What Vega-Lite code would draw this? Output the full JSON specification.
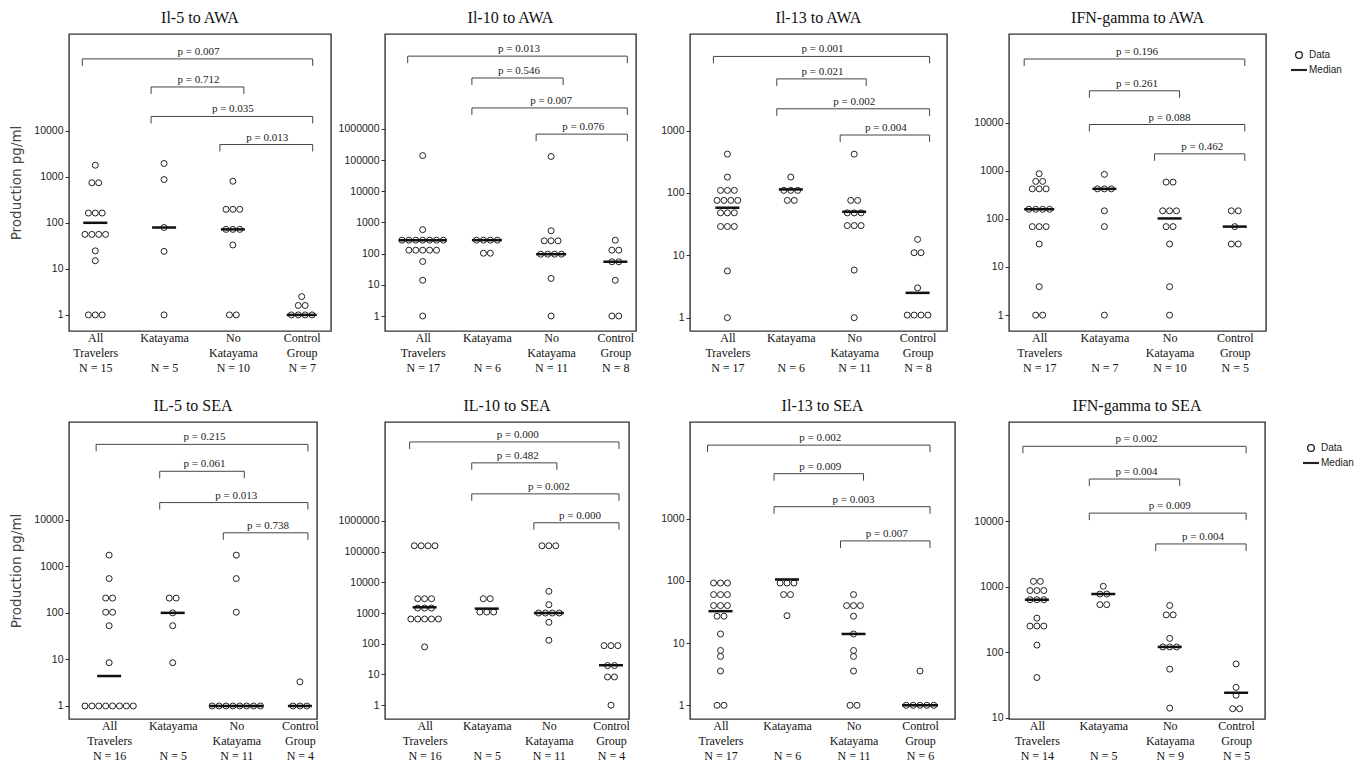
{
"$schema": "https://vega.github.io/schema/vega-lite/v6.json",
"background": "white",
"padding": {"left": 8, "top": 9, "right": 5, "bottom": 5},
"datasets": {
"pts": [
{"p":"A5","g":1,"v":1780},{"p":"A5","g":1,"v":740},{"p":"A5","g":1,"v":740},{"p":"A5","g":1,"v":163},{"p":"A5","g":1,"v":163},{"p":"A5","g":1,"v":163},{"p":"A5","g":1,"v":56},{"p":"A5","g":1,"v":56},{"p":"A5","g":1,"v":56},{"p":"A5","g":1,"v":56},{"p":"A5","g":1,"v":24.6},{"p":"A5","g":1,"v":15},{"p":"A5","g":1,"v":1},{"p":"A5","g":1,"v":1},{"p":"A5","g":1,"v":1},
{"p":"A5","g":2,"v":1940},{"p":"A5","g":2,"v":870},{"p":"A5","g":2,"v":79},{"p":"A5","g":2,"v":24},{"p":"A5","g":2,"v":1},
{"p":"A5","g":3,"v":800},{"p":"A5","g":3,"v":196},{"p":"A5","g":3,"v":196},{"p":"A5","g":3,"v":196},{"p":"A5","g":3,"v":72},{"p":"A5","g":3,"v":72},{"p":"A5","g":3,"v":72},{"p":"A5","g":3,"v":33},{"p":"A5","g":3,"v":1},{"p":"A5","g":3,"v":1},
{"p":"A5","g":4,"v":2.5},{"p":"A5","g":4,"v":1.6},{"p":"A5","g":4,"v":1.6},{"p":"A5","g":4,"v":1},{"p":"A5","g":4,"v":1},{"p":"A5","g":4,"v":1},{"p":"A5","g":4,"v":1},
{"p":"A10","g":1,"v":139000},{"p":"A10","g":1,"v":585},{"p":"A10","g":1,"v":270},{"p":"A10","g":1,"v":270},{"p":"A10","g":1,"v":270},{"p":"A10","g":1,"v":270},{"p":"A10","g":1,"v":270},{"p":"A10","g":1,"v":270},{"p":"A10","g":1,"v":270},{"p":"A10","g":1,"v":129},{"p":"A10","g":1,"v":129},{"p":"A10","g":1,"v":129},{"p":"A10","g":1,"v":129},{"p":"A10","g":1,"v":129},{"p":"A10","g":1,"v":56},{"p":"A10","g":1,"v":14},{"p":"A10","g":1,"v":1},
{"p":"A10","g":2,"v":270},{"p":"A10","g":2,"v":270},{"p":"A10","g":2,"v":270},{"p":"A10","g":2,"v":270},{"p":"A10","g":2,"v":103},{"p":"A10","g":2,"v":103},
{"p":"A10","g":3,"v":130000},{"p":"A10","g":3,"v":540},{"p":"A10","g":3,"v":257},{"p":"A10","g":3,"v":257},{"p":"A10","g":3,"v":257},{"p":"A10","g":3,"v":96},{"p":"A10","g":3,"v":96},{"p":"A10","g":3,"v":96},{"p":"A10","g":3,"v":96},{"p":"A10","g":3,"v":16},{"p":"A10","g":3,"v":1},
{"p":"A10","g":4,"v":270},{"p":"A10","g":4,"v":129},{"p":"A10","g":4,"v":129},{"p":"A10","g":4,"v":55},{"p":"A10","g":4,"v":55},{"p":"A10","g":4,"v":14},{"p":"A10","g":4,"v":1},{"p":"A10","g":4,"v":1},
{"p":"A13","g":1,"v":420},{"p":"A13","g":1,"v":180},{"p":"A13","g":1,"v":110},{"p":"A13","g":1,"v":110},{"p":"A13","g":1,"v":110},{"p":"A13","g":1,"v":76},{"p":"A13","g":1,"v":76},{"p":"A13","g":1,"v":76},{"p":"A13","g":1,"v":76},{"p":"A13","g":1,"v":48},{"p":"A13","g":1,"v":48},{"p":"A13","g":1,"v":48},{"p":"A13","g":1,"v":29},{"p":"A13","g":1,"v":29},{"p":"A13","g":1,"v":29},{"p":"A13","g":1,"v":5.6},{"p":"A13","g":1,"v":1},
{"p":"A13","g":2,"v":180},{"p":"A13","g":2,"v":110},{"p":"A13","g":2,"v":110},{"p":"A13","g":2,"v":110},{"p":"A13","g":2,"v":76},{"p":"A13","g":2,"v":76},
{"p":"A13","g":3,"v":420},{"p":"A13","g":3,"v":76},{"p":"A13","g":3,"v":76},{"p":"A13","g":3,"v":48},{"p":"A13","g":3,"v":48},{"p":"A13","g":3,"v":48},{"p":"A13","g":3,"v":30},{"p":"A13","g":3,"v":30},{"p":"A13","g":3,"v":30},{"p":"A13","g":3,"v":5.8},{"p":"A13","g":3,"v":1},
{"p":"A13","g":4,"v":18},{"p":"A13","g":4,"v":11},{"p":"A13","g":4,"v":11},{"p":"A13","g":4,"v":3},{"p":"A13","g":4,"v":1.1},{"p":"A13","g":4,"v":1.1},{"p":"A13","g":4,"v":1.1},{"p":"A13","g":4,"v":1.1},
{"p":"AG","g":1,"v":865},{"p":"AG","g":1,"v":600},{"p":"AG","g":1,"v":600},{"p":"AG","g":1,"v":420},{"p":"AG","g":1,"v":420},{"p":"AG","g":1,"v":420},{"p":"AG","g":1,"v":158},{"p":"AG","g":1,"v":158},{"p":"AG","g":1,"v":158},{"p":"AG","g":1,"v":158},{"p":"AG","g":1,"v":69},{"p":"AG","g":1,"v":69},{"p":"AG","g":1,"v":69},{"p":"AG","g":1,"v":30},{"p":"AG","g":1,"v":3.9},{"p":"AG","g":1,"v":1},{"p":"AG","g":1,"v":1},
{"p":"AG","g":2,"v":840},{"p":"AG","g":2,"v":420},{"p":"AG","g":2,"v":420},{"p":"AG","g":2,"v":420},{"p":"AG","g":2,"v":147},{"p":"AG","g":2,"v":69},{"p":"AG","g":2,"v":1},
{"p":"AG","g":3,"v":580},{"p":"AG","g":3,"v":580},{"p":"AG","g":3,"v":147},{"p":"AG","g":3,"v":147},{"p":"AG","g":3,"v":147},{"p":"AG","g":3,"v":69},{"p":"AG","g":3,"v":69},{"p":"AG","g":3,"v":30},{"p":"AG","g":3,"v":3.9},{"p":"AG","g":3,"v":1},
{"p":"AG","g":4,"v":147},{"p":"AG","g":4,"v":147},{"p":"AG","g":4,"v":69},{"p":"AG","g":4,"v":30},{"p":"AG","g":4,"v":30},
{"p":"S5","g":1,"v":1740},{"p":"S5","g":1,"v":545},{"p":"S5","g":1,"v":208},{"p":"S5","g":1,"v":208},{"p":"S5","g":1,"v":103},{"p":"S5","g":1,"v":103},{"p":"S5","g":1,"v":53},{"p":"S5","g":1,"v":8.5},{"p":"S5","g":1,"v":1},{"p":"S5","g":1,"v":1},{"p":"S5","g":1,"v":1},{"p":"S5","g":1,"v":1},{"p":"S5","g":1,"v":1},{"p":"S5","g":1,"v":1},{"p":"S5","g":1,"v":1},{"p":"S5","g":1,"v":1},
{"p":"S5","g":2,"v":208},{"p":"S5","g":2,"v":208},{"p":"S5","g":2,"v":100},{"p":"S5","g":2,"v":53},{"p":"S5","g":2,"v":8.5},
{"p":"S5","g":3,"v":1740},{"p":"S5","g":3,"v":545},{"p":"S5","g":3,"v":103},{"p":"S5","g":3,"v":1},{"p":"S5","g":3,"v":1},{"p":"S5","g":3,"v":1},{"p":"S5","g":3,"v":1},{"p":"S5","g":3,"v":1},{"p":"S5","g":3,"v":1},{"p":"S5","g":3,"v":1},{"p":"S5","g":3,"v":1},
{"p":"S5","g":4,"v":3.3},{"p":"S5","g":4,"v":1},{"p":"S5","g":4,"v":1},{"p":"S5","g":4,"v":1},
{"p":"S10","g":1,"v":155000},{"p":"S10","g":1,"v":155000},{"p":"S10","g":1,"v":155000},{"p":"S10","g":1,"v":155000},{"p":"S10","g":1,"v":2930},{"p":"S10","g":1,"v":2930},{"p":"S10","g":1,"v":2930},{"p":"S10","g":1,"v":1450},{"p":"S10","g":1,"v":1450},{"p":"S10","g":1,"v":1450},{"p":"S10","g":1,"v":640},{"p":"S10","g":1,"v":640},{"p":"S10","g":1,"v":640},{"p":"S10","g":1,"v":640},{"p":"S10","g":1,"v":640},{"p":"S10","g":1,"v":79},
{"p":"S10","g":2,"v":2930},{"p":"S10","g":2,"v":2930},{"p":"S10","g":2,"v":1080},{"p":"S10","g":2,"v":1080},{"p":"S10","g":2,"v":1080},
{"p":"S10","g":3,"v":155000},{"p":"S10","g":3,"v":155000},{"p":"S10","g":3,"v":155000},{"p":"S10","g":3,"v":5100},{"p":"S10","g":3,"v":1870},{"p":"S10","g":3,"v":1000},{"p":"S10","g":3,"v":1000},{"p":"S10","g":3,"v":1000},{"p":"S10","g":3,"v":1000},{"p":"S10","g":3,"v":500},{"p":"S10","g":3,"v":130},
{"p":"S10","g":4,"v":87},{"p":"S10","g":4,"v":87},{"p":"S10","g":4,"v":87},{"p":"S10","g":4,"v":19.5},{"p":"S10","g":4,"v":19.5},{"p":"S10","g":4,"v":8.3},{"p":"S10","g":4,"v":8.3},{"p":"S10","g":4,"v":1},
{"p":"S13","g":1,"v":92},{"p":"S13","g":1,"v":92},{"p":"S13","g":1,"v":92},{"p":"S13","g":1,"v":60},{"p":"S13","g":1,"v":60},{"p":"S13","g":1,"v":60},{"p":"S13","g":1,"v":40},{"p":"S13","g":1,"v":40},{"p":"S13","g":1,"v":40},{"p":"S13","g":1,"v":27},{"p":"S13","g":1,"v":27},{"p":"S13","g":1,"v":14},{"p":"S13","g":1,"v":7.6},{"p":"S13","g":1,"v":6.1},{"p":"S13","g":1,"v":3.55},{"p":"S13","g":1,"v":1},{"p":"S13","g":1,"v":1},
{"p":"S13","g":2,"v":92},{"p":"S13","g":2,"v":92},{"p":"S13","g":2,"v":92},{"p":"S13","g":2,"v":60},{"p":"S13","g":2,"v":60},{"p":"S13","g":2,"v":27.5},
{"p":"S13","g":3,"v":60},{"p":"S13","g":3,"v":40},{"p":"S13","g":3,"v":40},{"p":"S13","g":3,"v":40},{"p":"S13","g":3,"v":27},{"p":"S13","g":3,"v":14},{"p":"S13","g":3,"v":7.6},{"p":"S13","g":3,"v":6.1},{"p":"S13","g":3,"v":3.55},{"p":"S13","g":3,"v":1},{"p":"S13","g":3,"v":1},
{"p":"S13","g":4,"v":3.55},{"p":"S13","g":4,"v":1},{"p":"S13","g":4,"v":1},{"p":"S13","g":4,"v":1},{"p":"S13","g":4,"v":1},{"p":"S13","g":4,"v":1},
{"p":"SG","g":1,"v":1200},{"p":"SG","g":1,"v":1200},{"p":"SG","g":1,"v":870},{"p":"SG","g":1,"v":870},{"p":"SG","g":1,"v":870},{"p":"SG","g":1,"v":630},{"p":"SG","g":1,"v":630},{"p":"SG","g":1,"v":630},{"p":"SG","g":1,"v":330},{"p":"SG","g":1,"v":250},{"p":"SG","g":1,"v":250},{"p":"SG","g":1,"v":250},{"p":"SG","g":1,"v":128},{"p":"SG","g":1,"v":41},
{"p":"SG","g":2,"v":1010},{"p":"SG","g":2,"v":770},{"p":"SG","g":2,"v":770},{"p":"SG","g":2,"v":530},{"p":"SG","g":2,"v":530},
{"p":"SG","g":3,"v":515},{"p":"SG","g":3,"v":370},{"p":"SG","g":3,"v":370},{"p":"SG","g":3,"v":162},{"p":"SG","g":3,"v":120},{"p":"SG","g":3,"v":120},{"p":"SG","g":3,"v":120},{"p":"SG","g":3,"v":55},{"p":"SG","g":3,"v":14},
{"p":"SG","g":4,"v":66},{"p":"SG","g":4,"v":29},{"p":"SG","g":4,"v":22},{"p":"SG","g":4,"v":13.7},{"p":"SG","g":4,"v":13.7},
{"p":"A5","g":1,"v":100,"med":1},{"p":"A5","g":2,"v":79,"med":1},{"p":"A5","g":3,"v":72,"med":1},{"p":"A5","g":4,"v":1,"med":1},
{"p":"A10","g":1,"v":270,"med":1},{"p":"A10","g":2,"v":270,"med":1},{"p":"A10","g":3,"v":96,"med":1},{"p":"A10","g":4,"v":55,"med":1},
{"p":"A13","g":1,"v":58,"med":1},{"p":"A13","g":2,"v":114,"med":1},{"p":"A13","g":3,"v":50,"med":1},{"p":"A13","g":4,"v":2.5,"med":1},
{"p":"AG","g":1,"v":158,"med":1},{"p":"AG","g":2,"v":420,"med":1},{"p":"AG","g":3,"v":102,"med":1},{"p":"AG","g":4,"v":69,"med":1},
{"p":"S5","g":1,"v":4.4,"med":1},{"p":"S5","g":2,"v":100,"med":1},{"p":"S5","g":3,"v":1,"med":1},{"p":"S5","g":4,"v":1,"med":1},
{"p":"S10","g":1,"v":1540,"med":1},{"p":"S10","g":2,"v":1390,"med":1},{"p":"S10","g":3,"v":1000,"med":1},{"p":"S10","g":4,"v":20,"med":1},
{"p":"S13","g":1,"v":32.5,"med":1},{"p":"S13","g":2,"v":105,"med":1},{"p":"S13","g":3,"v":14,"med":1},{"p":"S13","g":4,"v":1,"med":1},
{"p":"SG","g":1,"v":630,"med":1},{"p":"SG","g":2,"v":770,"med":1},{"p":"SG","g":3,"v":120,"med":1},{"p":"SG","g":4,"v":24,"med":1}
],
"br": [
{"p":"A5","a":1,"b":4,"y":363000,"t":"p = 0.007"},{"p":"A5","a":2,"b":3,"y":89100,"t":"p = 0.712"},{"p":"A5","a":2,"b":4,"y":20400,"t":"p = 0.035"},{"p":"A5","a":3,"b":4,"y":5010,"t":"p = 0.013"},
{"p":"A10","a":1,"b":4,"y":214000000,"t":"p = 0.013"},{"p":"A10","a":2,"b":3,"y":42700000,"t":"p = 0.546"},{"p":"A10","a":2,"b":4,"y":4680000,"t":"p = 0.007"},{"p":"A10","a":3,"b":4,"y":676000,"t":"p = 0.076"},
{"p":"A13","a":1,"b":4,"y":15500,"t":"p = 0.001"},{"p":"A13","a":2,"b":3,"y":6760,"t":"p = 0.021"},{"p":"A13","a":2,"b":4,"y":2240,"t":"p = 0.002"},{"p":"A13","a":3,"b":4,"y":851,"t":"p = 0.004"},
{"p":"AG","a":1,"b":4,"y":209000,"t":"p = 0.196"},{"p":"AG","a":2,"b":3,"y":45700,"t":"p = 0.261"},{"p":"AG","a":2,"b":4,"y":9120,"t":"p = 0.088"},{"p":"AG","a":3,"b":4,"y":2240,"t":"p = 0.462"},
{"p":"S5","a":1,"b":4,"y":417000,"t":"p = 0.215"},{"p":"S5","a":2,"b":3,"y":110000,"t":"p = 0.061"},{"p":"S5","a":2,"b":4,"y":23400,"t":"p = 0.013"},{"p":"S5","a":3,"b":4,"y":5250,"t":"p = 0.738"},
{"p":"S10","a":1,"b":4,"y":372000000,"t":"p = 0.000"},{"p":"S10","a":2,"b":3,"y":77600000,"t":"p = 0.482"},{"p":"S10","a":2,"b":4,"y":7590000,"t":"p = 0.002"},{"p":"S10","a":3,"b":4,"y":871000,"t":"p = 0.000"},
{"p":"S13","a":1,"b":4,"y":15100,"t":"p = 0.002"},{"p":"S13","a":2,"b":3,"y":5250,"t":"p = 0.009"},{"p":"S13","a":2,"b":4,"y":1550,"t":"p = 0.003"},{"p":"S13","a":3,"b":4,"y":437,"t":"p = 0.007"},
{"p":"SG","a":1,"b":4,"y":138000,"t":"p = 0.002"},{"p":"SG","a":2,"b":3,"y":43700,"t":"p = 0.004"},{"p":"SG","a":2,"b":4,"y":13200,"t":"p = 0.009"},{"p":"SG","a":3,"b":4,"y":4470,"t":"p = 0.004"}
]
},
"columns": 4,
"bounds": "flush",
"spacing": {"row": 91, "column": 54},
"resolve": {"scale": {"x": "independent", "y": "independent", "shape": "independent"}, "legend": {"shape": "independent"}},
"concat": [
{
 "width": 262, "height": 297, "title": "Il-5 to AWA",
 "layer": [
  {"data": {"name": "pts"}, "transform": [{"filter": "datum.p=='A5' && !datum.med"}, {"window": [{"op": "row_number", "as": "r"}], "groupby": ["g", "v"]}, {"joinaggregate": [{"op": "count", "as": "n"}], "groupby": ["g", "v"]}, {"calculate": "datum.g+0.1*(datum.r-(datum.n+1)/2)", "as": "xp"}],
   "mark": {"type": "point", "shape": "circle", "filled": false, "size": 36, "stroke": "#222", "strokeWidth": 1, "opacity": 1},
   "encoding": {
    "x": {"field": "xp", "type": "quantitative", "scale": {"domain": [0.618, 4.426], "nice": false, "zero": false}, "axis": {"values": [1, 2, 3, 4], "title": null, "labelExpr": "[['All','Travelers','N =  15'],['Katayama','\u2800','N = 5'],['No','Katayama','N = 10'],['Control','Group','N = 7']][datum.value-1]"}},
    "y": {"field": "v", "type": "quantitative", "scale": {"type": "log", "domain": [0.447, 1260000], "nice": false}, "axis": {"values": [1, 10, 100, 1000, 10000], "format": "d", "title": "Production pg/ml"}}
   }},
  {"data": {"name": "pts"}, "transform": [{"filter": "datum.p=='A5'"}, {"joinaggregate": [{"op": "missing", "field": "med", "as": "np"}], "groupby": ["g", "v"]}, {"filter": "datum.med==1"}], "mark": {"type": "tick", "orient": "horizontal", "color": "#111", "thickness": 2.5, "opacity": 1}, "encoding": {"x": {"field": "g", "type": "quantitative"}, "y": {"field": "v", "type": "quantitative"}, "size": {"field": "np", "type": "quantitative", "scale": {"domain": [3, 8], "range": [24, 54], "clamp": true, "zero": false}, "legend": null}}},
  {"data": {"name": "br"}, "transform": [{"filter": "datum.p=='A5'"}], "mark": {"type": "rule", "color": "#444", "strokeWidth": 1, "xOffset": -13, "x2Offset": 11}, "encoding": {"x": {"field": "a", "type": "quantitative"}, "x2": {"field": "b"}, "y": {"field": "y", "type": "quantitative"}}},
  {"data": {"name": "br"}, "transform": [{"filter": "datum.p=='A5'"}], "mark": {"type": "rule", "color": "#444", "strokeWidth": 1, "xOffset": -13, "y2Offset": 7}, "encoding": {"x": {"field": "a", "type": "quantitative"}, "y": {"field": "y", "type": "quantitative"}, "y2": {"field": "y"}}},
  {"data": {"name": "br"}, "transform": [{"filter": "datum.p=='A5'"}], "mark": {"type": "rule", "color": "#444", "strokeWidth": 1, "xOffset": 11, "y2Offset": 7}, "encoding": {"x": {"field": "b", "type": "quantitative"}, "y": {"field": "y", "type": "quantitative"}, "y2": {"field": "y"}}},
  {"data": {"name": "br"}, "transform": [{"filter": "datum.p=='A5'"}, {"fold": ["a", "b"], "as": ["k", "xe"]}], "mark": {"type": "text", "font": "Liberation Serif", "fontSize": 11, "color": "#222", "baseline": "bottom", "dy": -2}, "encoding": {"x": {"aggregate": "mean", "field": "xe", "type": "quantitative"}, "y": {"field": "y", "type": "quantitative"}, "text": {"field": "t"}}}
 ]
},
{
 "width": 251, "height": 297, "title": "Il-10 to AWA",
 "layer": [
  {"data": {"name": "pts"}, "transform": [{"filter": "datum.p=='A10' && !datum.med"}, {"window": [{"op": "row_number", "as": "r"}], "groupby": ["g", "v"]}, {"joinaggregate": [{"op": "count", "as": "n"}], "groupby": ["g", "v"]}, {"calculate": "datum.g+0.1075*(datum.r-(datum.n+1)/2)", "as": "xp"}],
   "mark": {"type": "point", "shape": "circle", "filled": false, "size": 36, "stroke": "#222", "strokeWidth": 1, "opacity": 1},
   "encoding": {
    "x": {"field": "xp", "type": "quantitative", "scale": {"domain": [0.413, 4.322], "nice": false, "zero": false}, "axis": {"values": [1, 2, 3, 4], "title": null, "labelExpr": "[['All','Travelers','N = 17'],['Katayama','\u2800','N = 6'],['No','Katayama','N = 11'],['Control','Group','N = 8']][datum.value-1]"}},
    "y": {"field": "v", "type": "quantitative", "scale": {"type": "log", "domain": [0.331, 1096000000], "nice": false}, "axis": {"values": [1, 10, 100, 1000, 10000, 100000, 1000000], "format": "d", "title": null}}
   }},
  {"data": {"name": "pts"}, "transform": [{"filter": "datum.p=='A10'"}, {"joinaggregate": [{"op": "missing", "field": "med", "as": "np"}], "groupby": ["g", "v"]}, {"filter": "datum.med==1"}], "mark": {"type": "tick", "orient": "horizontal", "color": "#111", "thickness": 2.5, "opacity": 1}, "encoding": {"x": {"field": "g", "type": "quantitative"}, "y": {"field": "v", "type": "quantitative"}, "size": {"field": "np", "type": "quantitative", "scale": {"domain": [3, 8], "range": [24, 54], "clamp": true, "zero": false}, "legend": null}}},
  {"data": {"name": "br"}, "transform": [{"filter": "datum.p=='A10'"}], "mark": {"type": "rule", "color": "#444", "strokeWidth": 1, "xOffset": -15, "x2Offset": 12}, "encoding": {"x": {"field": "a", "type": "quantitative"}, "x2": {"field": "b"}, "y": {"field": "y", "type": "quantitative"}}},
  {"data": {"name": "br"}, "transform": [{"filter": "datum.p=='A10'"}], "mark": {"type": "rule", "color": "#444", "strokeWidth": 1, "xOffset": -15, "y2Offset": 7}, "encoding": {"x": {"field": "a", "type": "quantitative"}, "y": {"field": "y", "type": "quantitative"}, "y2": {"field": "y"}}},
  {"data": {"name": "br"}, "transform": [{"filter": "datum.p=='A10'"}], "mark": {"type": "rule", "color": "#444", "strokeWidth": 1, "xOffset": 12, "y2Offset": 7}, "encoding": {"x": {"field": "b", "type": "quantitative"}, "y": {"field": "y", "type": "quantitative"}, "y2": {"field": "y"}}},
  {"data": {"name": "br"}, "transform": [{"filter": "datum.p=='A10'"}, {"fold": ["a", "b"], "as": ["k", "xe"]}], "mark": {"type": "text", "font": "Liberation Serif", "fontSize": 11, "color": "#222", "baseline": "bottom", "dy": -2}, "encoding": {"x": {"aggregate": "mean", "field": "xe", "type": "quantitative"}, "y": {"field": "y", "type": "quantitative"}, "text": {"field": "t"}}}
 ]
},
{
 "width": 257, "height": 297, "title": "Il-13 to AWA",
 "layer": [
  {"data": {"name": "pts"}, "transform": [{"filter": "datum.p=='A13' && !datum.med"}, {"window": [{"op": "row_number", "as": "r"}], "groupby": ["g", "v"]}, {"joinaggregate": [{"op": "count", "as": "n"}], "groupby": ["g", "v"]}, {"calculate": "datum.g+0.109*(datum.r-(datum.n+1)/2)", "as": "xp"}],
   "mark": {"type": "point", "shape": "circle", "filled": false, "size": 36, "stroke": "#222", "strokeWidth": 1, "opacity": 1},
   "encoding": {
    "x": {"field": "xp", "type": "quantitative", "scale": {"domain": [0.41, 4.464], "nice": false, "zero": false}, "axis": {"values": [1, 2, 3, 4], "title": null, "labelExpr": "[['All','Travelers','N = 17'],['Katayama','\u2800','N = 6'],['No','Katayama','N = 11'],['Control','Group','N = 8']][datum.value-1]"}},
    "y": {"field": "v", "type": "quantitative", "scale": {"type": "log", "domain": [0.611, 35500], "nice": false}, "axis": {"values": [1, 10, 100, 1000], "format": "d", "title": null}}
   }},
  {"data": {"name": "pts"}, "transform": [{"filter": "datum.p=='A13'"}, {"joinaggregate": [{"op": "missing", "field": "med", "as": "np"}], "groupby": ["g", "v"]}, {"filter": "datum.med==1"}], "mark": {"type": "tick", "orient": "horizontal", "color": "#111", "thickness": 2.5, "opacity": 1}, "encoding": {"x": {"field": "g", "type": "quantitative"}, "y": {"field": "v", "type": "quantitative"}, "size": {"field": "np", "type": "quantitative", "scale": {"domain": [3, 8], "range": [24, 54], "clamp": true, "zero": false}, "legend": null}}},
  {"data": {"name": "br"}, "transform": [{"filter": "datum.p=='A13'"}], "mark": {"type": "rule", "color": "#444", "strokeWidth": 1, "xOffset": -14, "x2Offset": 12}, "encoding": {"x": {"field": "a", "type": "quantitative"}, "x2": {"field": "b"}, "y": {"field": "y", "type": "quantitative"}}},
  {"data": {"name": "br"}, "transform": [{"filter": "datum.p=='A13'"}], "mark": {"type": "rule", "color": "#444", "strokeWidth": 1, "xOffset": -14, "y2Offset": 7}, "encoding": {"x": {"field": "a", "type": "quantitative"}, "y": {"field": "y", "type": "quantitative"}, "y2": {"field": "y"}}},
  {"data": {"name": "br"}, "transform": [{"filter": "datum.p=='A13'"}], "mark": {"type": "rule", "color": "#444", "strokeWidth": 1, "xOffset": 12, "y2Offset": 7}, "encoding": {"x": {"field": "b", "type": "quantitative"}, "y": {"field": "y", "type": "quantitative"}, "y2": {"field": "y"}}},
  {"data": {"name": "br"}, "transform": [{"filter": "datum.p=='A13'"}, {"fold": ["a", "b"], "as": ["k", "xe"]}], "mark": {"type": "text", "font": "Liberation Serif", "fontSize": 11, "color": "#222", "baseline": "bottom", "dy": -2}, "encoding": {"x": {"aggregate": "mean", "field": "xe", "type": "quantitative"}, "y": {"field": "y", "type": "quantitative"}, "text": {"field": "t"}}}
 ]
},
{
 "width": 257, "height": 297, "title": "IFN-gamma to AWA",
 "layer": [
  {"data": {"name": "pts"}, "transform": [{"filter": "datum.p=='AG' && !datum.med"}, {"window": [{"op": "row_number", "as": "r"}], "groupby": ["g", "v"]}, {"joinaggregate": [{"op": "count", "as": "n"}], "groupby": ["g", "v"]}, {"calculate": "datum.g+0.106*(datum.r-(datum.n+1)/2)", "as": "xp"}],
   "mark": {"type": "point", "shape": "circle", "filled": false, "size": 36, "stroke": "#222", "strokeWidth": 1, "opacity": 1},
   "encoding": {
    "x": {"field": "xp", "type": "quantitative", "scale": {"domain": [0.537, 4.479], "nice": false, "zero": false}, "axis": {"values": [1, 2, 3, 4], "title": null, "labelExpr": "[['All','Travelers','N = 17'],['Katayama','\u2800','N = 7'],['No','Katayama','N = 10'],['Control','Group','N = 5']][datum.value-1]"}},
    "y": {"field": "v", "type": "quantitative", "scale": {"type": "log", "domain": [0.468, 692000], "nice": false}, "axis": {"values": [1, 10, 100, 1000, 10000], "format": "d", "title": null}},
    "shape": {"datum": "Data", "type": "nominal", "scale": {"domain": ["Data", "Median"], "range": ["circle", "M-2.2,-0.12H2.2V0.12H-2.2Z"]}, "legend": {"title": null, "orient": "none", "legendX": 285, "legendY": 16}}
   }},
  {"data": {"name": "pts"}, "transform": [{"filter": "datum.p=='AG'"}, {"joinaggregate": [{"op": "missing", "field": "med", "as": "np"}], "groupby": ["g", "v"]}, {"filter": "datum.med==1"}], "mark": {"type": "tick", "orient": "horizontal", "color": "#111", "thickness": 2.5, "opacity": 1}, "encoding": {"x": {"field": "g", "type": "quantitative"}, "y": {"field": "v", "type": "quantitative"}, "size": {"field": "np", "type": "quantitative", "scale": {"domain": [3, 8], "range": [24, 54], "clamp": true, "zero": false}, "legend": null}}},
  {"data": {"name": "br"}, "transform": [{"filter": "datum.p=='AG'"}], "mark": {"type": "rule", "color": "#444", "strokeWidth": 1, "xOffset": -15, "x2Offset": 10}, "encoding": {"x": {"field": "a", "type": "quantitative"}, "x2": {"field": "b"}, "y": {"field": "y", "type": "quantitative"}}},
  {"data": {"name": "br"}, "transform": [{"filter": "datum.p=='AG'"}], "mark": {"type": "rule", "color": "#444", "strokeWidth": 1, "xOffset": -15, "y2Offset": 7}, "encoding": {"x": {"field": "a", "type": "quantitative"}, "y": {"field": "y", "type": "quantitative"}, "y2": {"field": "y"}}},
  {"data": {"name": "br"}, "transform": [{"filter": "datum.p=='AG'"}], "mark": {"type": "rule", "color": "#444", "strokeWidth": 1, "xOffset": 10, "y2Offset": 7}, "encoding": {"x": {"field": "b", "type": "quantitative"}, "y": {"field": "y", "type": "quantitative"}, "y2": {"field": "y"}}},
  {"data": {"name": "br"}, "transform": [{"filter": "datum.p=='AG'"}, {"fold": ["a", "b"], "as": ["k", "xe"]}], "mark": {"type": "text", "font": "Liberation Serif", "fontSize": 11, "color": "#222", "baseline": "bottom", "dy": -2}, "encoding": {"x": {"aggregate": "mean", "field": "xe", "type": "quantitative"}, "y": {"field": "y", "type": "quantitative"}, "text": {"field": "t"}}}
 ]
},
{
 "width": 248, "height": 297, "title": "IL-5 to SEA",
 "layer": [
  {"data": {"name": "pts"}, "transform": [{"filter": "datum.p=='S5' && !datum.med"}, {"window": [{"op": "row_number", "as": "r"}], "groupby": ["g", "v"]}, {"joinaggregate": [{"op": "count", "as": "n"}], "groupby": ["g", "v"]}, {"calculate": "datum.g+0.1085*(datum.r-(datum.n+1)/2)", "as": "xp"}],
   "mark": {"type": "point", "shape": "circle", "filled": false, "size": 36, "stroke": "#222", "strokeWidth": 1, "opacity": 1},
   "encoding": {
    "x": {"field": "xp", "type": "quantitative", "scale": {"domain": [0.369, 4.269], "nice": false, "zero": false}, "axis": {"values": [1, 2, 3, 4], "title": null, "labelExpr": "[['All','Travelers','N = 16'],['Katayama','\u2800','N = 5'],['No','Katayama','N = 11'],['Control','Group','N = 4']][datum.value-1]"}},
    "y": {"field": "v", "type": "quantitative", "scale": {"type": "log", "domain": [0.525, 1260000], "nice": false}, "axis": {"values": [1, 10, 100, 1000, 10000], "format": "d", "title": "Production pg/ml"}}
   }},
  {"data": {"name": "pts"}, "transform": [{"filter": "datum.p=='S5'"}, {"joinaggregate": [{"op": "missing", "field": "med", "as": "np"}], "groupby": ["g", "v"]}, {"filter": "datum.med==1"}], "mark": {"type": "tick", "orient": "horizontal", "color": "#111", "thickness": 2.5, "opacity": 1}, "encoding": {"x": {"field": "g", "type": "quantitative"}, "y": {"field": "v", "type": "quantitative"}, "size": {"field": "np", "type": "quantitative", "scale": {"domain": [3, 8], "range": [24, 54], "clamp": true, "zero": false}, "legend": null}}},
  {"data": {"name": "br"}, "transform": [{"filter": "datum.p=='S5'"}], "mark": {"type": "rule", "color": "#444", "strokeWidth": 1, "xOffset": -13, "x2Offset": 8}, "encoding": {"x": {"field": "a", "type": "quantitative"}, "x2": {"field": "b"}, "y": {"field": "y", "type": "quantitative"}}},
  {"data": {"name": "br"}, "transform": [{"filter": "datum.p=='S5'"}], "mark": {"type": "rule", "color": "#444", "strokeWidth": 1, "xOffset": -13, "y2Offset": 7}, "encoding": {"x": {"field": "a", "type": "quantitative"}, "y": {"field": "y", "type": "quantitative"}, "y2": {"field": "y"}}},
  {"data": {"name": "br"}, "transform": [{"filter": "datum.p=='S5'"}], "mark": {"type": "rule", "color": "#444", "strokeWidth": 1, "xOffset": 8, "y2Offset": 7}, "encoding": {"x": {"field": "b", "type": "quantitative"}, "y": {"field": "y", "type": "quantitative"}, "y2": {"field": "y"}}},
  {"data": {"name": "br"}, "transform": [{"filter": "datum.p=='S5'"}, {"fold": ["a", "b"], "as": ["k", "xe"]}], "mark": {"type": "text", "font": "Liberation Serif", "fontSize": 11, "color": "#222", "baseline": "bottom", "dy": -2}, "encoding": {"x": {"aggregate": "mean", "field": "xe", "type": "quantitative"}, "y": {"field": "y", "type": "quantitative"}, "text": {"field": "t"}}}
 ]
},
{
 "width": 244, "height": 297, "title": "IL-10 to SEA",
 "layer": [
  {"data": {"name": "pts"}, "transform": [{"filter": "datum.p=='S10' && !datum.med"}, {"window": [{"op": "row_number", "as": "r"}], "groupby": ["g", "v"]}, {"joinaggregate": [{"op": "count", "as": "n"}], "groupby": ["g", "v"]}, {"calculate": "datum.g+0.111*(datum.r-(datum.n+1)/2)", "as": "xp"}],
   "mark": {"type": "point", "shape": "circle", "filled": false, "size": 36, "stroke": "#222", "strokeWidth": 1, "opacity": 1},
   "encoding": {
    "x": {"field": "xp", "type": "quantitative", "scale": {"domain": [0.362, 4.29], "nice": false, "zero": false}, "axis": {"values": [1, 2, 3, 4], "title": null, "labelExpr": "[['All','Travelers','N = 16'],['Katayama','\u2800','N = 5'],['No','Katayama','N = 11'],['Control','Group','N = 4']][datum.value-1]"}},
    "y": {"field": "v", "type": "quantitative", "scale": {"type": "log", "domain": [0.355, 1660000000], "nice": false}, "axis": {"values": [1, 10, 100, 1000, 10000, 100000, 1000000], "format": "d", "title": null}}
   }},
  {"data": {"name": "pts"}, "transform": [{"filter": "datum.p=='S10'"}, {"joinaggregate": [{"op": "missing", "field": "med", "as": "np"}], "groupby": ["g", "v"]}, {"filter": "datum.med==1"}], "mark": {"type": "tick", "orient": "horizontal", "color": "#111", "thickness": 2.5, "opacity": 1}, "encoding": {"x": {"field": "g", "type": "quantitative"}, "y": {"field": "v", "type": "quantitative"}, "size": {"field": "np", "type": "quantitative", "scale": {"domain": [3, 8], "range": [24, 54], "clamp": true, "zero": false}, "legend": null}}},
  {"data": {"name": "br"}, "transform": [{"filter": "datum.p=='S10'"}], "mark": {"type": "rule", "color": "#444", "strokeWidth": 1, "xOffset": -15, "x2Offset": 8}, "encoding": {"x": {"field": "a", "type": "quantitative"}, "x2": {"field": "b"}, "y": {"field": "y", "type": "quantitative"}}},
  {"data": {"name": "br"}, "transform": [{"filter": "datum.p=='S10'"}], "mark": {"type": "rule", "color": "#444", "strokeWidth": 1, "xOffset": -15, "y2Offset": 7}, "encoding": {"x": {"field": "a", "type": "quantitative"}, "y": {"field": "y", "type": "quantitative"}, "y2": {"field": "y"}}},
  {"data": {"name": "br"}, "transform": [{"filter": "datum.p=='S10'"}], "mark": {"type": "rule", "color": "#444", "strokeWidth": 1, "xOffset": 8, "y2Offset": 7}, "encoding": {"x": {"field": "b", "type": "quantitative"}, "y": {"field": "y", "type": "quantitative"}, "y2": {"field": "y"}}},
  {"data": {"name": "br"}, "transform": [{"filter": "datum.p=='S10'"}, {"fold": ["a", "b"], "as": ["k", "xe"]}], "mark": {"type": "text", "font": "Liberation Serif", "fontSize": 11, "color": "#222", "baseline": "bottom", "dy": -2}, "encoding": {"x": {"aggregate": "mean", "field": "xe", "type": "quantitative"}, "y": {"field": "y", "type": "quantitative"}, "text": {"field": "t"}}}
 ]
},
{
 "width": 265, "height": 297, "title": "Il-13 to SEA",
 "layer": [
  {"data": {"name": "pts"}, "transform": [{"filter": "datum.p=='S13' && !datum.med"}, {"window": [{"op": "row_number", "as": "r"}], "groupby": ["g", "v"]}, {"joinaggregate": [{"op": "count", "as": "n"}], "groupby": ["g", "v"]}, {"calculate": "datum.g+0.104*(datum.r-(datum.n+1)/2)", "as": "xp"}],
   "mark": {"type": "point", "shape": "circle", "filled": false, "size": 36, "stroke": "#222", "strokeWidth": 1, "opacity": 1},
   "encoding": {
    "x": {"field": "xp", "type": "quantitative", "scale": {"domain": [0.541, 4.526], "nice": false, "zero": false}, "axis": {"values": [1, 2, 3, 4], "title": null, "labelExpr": "[['All','Travelers','N = 17'],['Katayama','\u2800','N = 6'],['No','Katayama','N = 11'],['Control','Group','N = 6']][datum.value-1]"}},
    "y": {"field": "v", "type": "quantitative", "scale": {"type": "log", "domain": [0.603, 35500], "nice": false}, "axis": {"values": [1, 10, 100, 1000], "format": "d", "title": null}}
   }},
  {"data": {"name": "pts"}, "transform": [{"filter": "datum.p=='S13'"}, {"joinaggregate": [{"op": "missing", "field": "med", "as": "np"}], "groupby": ["g", "v"]}, {"filter": "datum.med==1"}], "mark": {"type": "tick", "orient": "horizontal", "color": "#111", "thickness": 2.5, "opacity": 1}, "encoding": {"x": {"field": "g", "type": "quantitative"}, "y": {"field": "v", "type": "quantitative"}, "size": {"field": "np", "type": "quantitative", "scale": {"domain": [3, 8], "range": [24, 54], "clamp": true, "zero": false}, "legend": null}}},
  {"data": {"name": "br"}, "transform": [{"filter": "datum.p=='S13'"}], "mark": {"type": "rule", "color": "#444", "strokeWidth": 1, "xOffset": -13, "x2Offset": 10}, "encoding": {"x": {"field": "a", "type": "quantitative"}, "x2": {"field": "b"}, "y": {"field": "y", "type": "quantitative"}}},
  {"data": {"name": "br"}, "transform": [{"filter": "datum.p=='S13'"}], "mark": {"type": "rule", "color": "#444", "strokeWidth": 1, "xOffset": -13, "y2Offset": 7}, "encoding": {"x": {"field": "a", "type": "quantitative"}, "y": {"field": "y", "type": "quantitative"}, "y2": {"field": "y"}}},
  {"data": {"name": "br"}, "transform": [{"filter": "datum.p=='S13'"}], "mark": {"type": "rule", "color": "#444", "strokeWidth": 1, "xOffset": 10, "y2Offset": 7}, "encoding": {"x": {"field": "b", "type": "quantitative"}, "y": {"field": "y", "type": "quantitative"}, "y2": {"field": "y"}}},
  {"data": {"name": "br"}, "transform": [{"filter": "datum.p=='S13'"}, {"fold": ["a", "b"], "as": ["k", "xe"]}], "mark": {"type": "text", "font": "Liberation Serif", "fontSize": 11, "color": "#222", "baseline": "bottom", "dy": -2}, "encoding": {"x": {"aggregate": "mean", "field": "xe", "type": "quantitative"}, "y": {"field": "y", "type": "quantitative"}, "text": {"field": "t"}}}
 ]
},
{
 "width": 256, "height": 297, "title": "IFN-gamma to SEA",
 "layer": [
  {"data": {"name": "pts"}, "transform": [{"filter": "datum.p=='SG' && !datum.med"}, {"window": [{"op": "row_number", "as": "r"}], "groupby": ["g", "v"]}, {"joinaggregate": [{"op": "count", "as": "n"}], "groupby": ["g", "v"]}, {"calculate": "datum.g+0.104*(datum.r-(datum.n+1)/2)", "as": "xp"}],
   "mark": {"type": "point", "shape": "circle", "filled": false, "size": 36, "stroke": "#222", "strokeWidth": 1, "opacity": 1},
   "encoding": {
    "x": {"field": "xp", "type": "quantitative", "scale": {"domain": [0.58, 4.435], "nice": false, "zero": false}, "axis": {"values": [1, 2, 3, 4], "title": null, "labelExpr": "[['All','Travelers','N = 14'],['Katayama','\u2800','N = 5'],['No','Katayama','N = 9'],['Control','Group','N = 5']][datum.value-1]"}},
    "y": {"field": "v", "type": "quantitative", "scale": {"type": "log", "domain": [9.55, 324000], "nice": false}, "axis": {"values": [10, 100, 1000, 10000], "format": "d", "title": null}},
    "shape": {"datum": "Data", "type": "nominal", "scale": {"domain": ["Data", "Median"], "range": ["circle", "M-2.2,-0.12H2.2V0.12H-2.2Z"]}, "legend": {"title": null, "orient": "none", "legendX": 297, "legendY": 21}}
   }},
  {"data": {"name": "pts"}, "transform": [{"filter": "datum.p=='SG'"}, {"joinaggregate": [{"op": "missing", "field": "med", "as": "np"}], "groupby": ["g", "v"]}, {"filter": "datum.med==1"}], "mark": {"type": "tick", "orient": "horizontal", "color": "#111", "thickness": 2.5, "opacity": 1}, "encoding": {"x": {"field": "g", "type": "quantitative"}, "y": {"field": "v", "type": "quantitative"}, "size": {"field": "np", "type": "quantitative", "scale": {"domain": [3, 8], "range": [24, 54], "clamp": true, "zero": false}, "legend": null}}},
  {"data": {"name": "br"}, "transform": [{"filter": "datum.p=='SG'"}], "mark": {"type": "rule", "color": "#444", "strokeWidth": 1, "xOffset": -14, "x2Offset": 10}, "encoding": {"x": {"field": "a", "type": "quantitative"}, "x2": {"field": "b"}, "y": {"field": "y", "type": "quantitative"}}},
  {"data": {"name": "br"}, "transform": [{"filter": "datum.p=='SG'"}], "mark": {"type": "rule", "color": "#444", "strokeWidth": 1, "xOffset": -14, "y2Offset": 7}, "encoding": {"x": {"field": "a", "type": "quantitative"}, "y": {"field": "y", "type": "quantitative"}, "y2": {"field": "y"}}},
  {"data": {"name": "br"}, "transform": [{"filter": "datum.p=='SG'"}], "mark": {"type": "rule", "color": "#444", "strokeWidth": 1, "xOffset": 10, "y2Offset": 7}, "encoding": {"x": {"field": "b", "type": "quantitative"}, "y": {"field": "y", "type": "quantitative"}, "y2": {"field": "y"}}},
  {"data": {"name": "br"}, "transform": [{"filter": "datum.p=='SG'"}, {"fold": ["a", "b"], "as": ["k", "xe"]}], "mark": {"type": "text", "font": "Liberation Serif", "fontSize": 11, "color": "#222", "baseline": "bottom", "dy": -2}, "encoding": {"x": {"aggregate": "mean", "field": "xe", "type": "quantitative"}, "y": {"field": "y", "type": "quantitative"}, "text": {"field": "t"}}}
 ]
}
],
"config": {
 "view": {"stroke": "#333", "strokeWidth": 1.4},
 "font": "Liberation Serif",
 "title": {"font": "Liberation Serif", "fontSize": 16, "fontWeight": "normal", "color": "#111", "offset": 8},
 "axisX": {"ticks": false, "domain": false, "grid": false, "labelFont": "Liberation Serif", "labelFontSize": 12, "labelColor": "#111", "labelPadding": 1, "labelLineHeight": 15, "labelBaseline": "top", "labelAlign": "center", "labelOverlap": false, "labelFlush": false, "labelBound": false},
 "axisY": {"domain": false, "grid": false, "ticks": true, "tickSize": 4, "tickColor": "#333", "labelFont": "Liberation Sans", "labelFontSize": 10.5, "labelColor": "#222", "labelPadding": 2, "minExtent": 40, "maxExtent": 40, "titleFont": "DejaVu Sans", "titleFontSize": 13.5, "titleFontWeight": "normal", "titleColor": "#444", "titlePadding": 6, "labelOverlap": false},
 "legend": {"labelFont": "Liberation Sans", "labelFontSize": 10, "labelColor": "#222", "symbolSize": 45, "symbolStrokeColor": "#222", "symbolStrokeWidth": 1.3, "symbolFillColor": "transparent", "rowPadding": 4, "labelOffset": 5}
}
}
